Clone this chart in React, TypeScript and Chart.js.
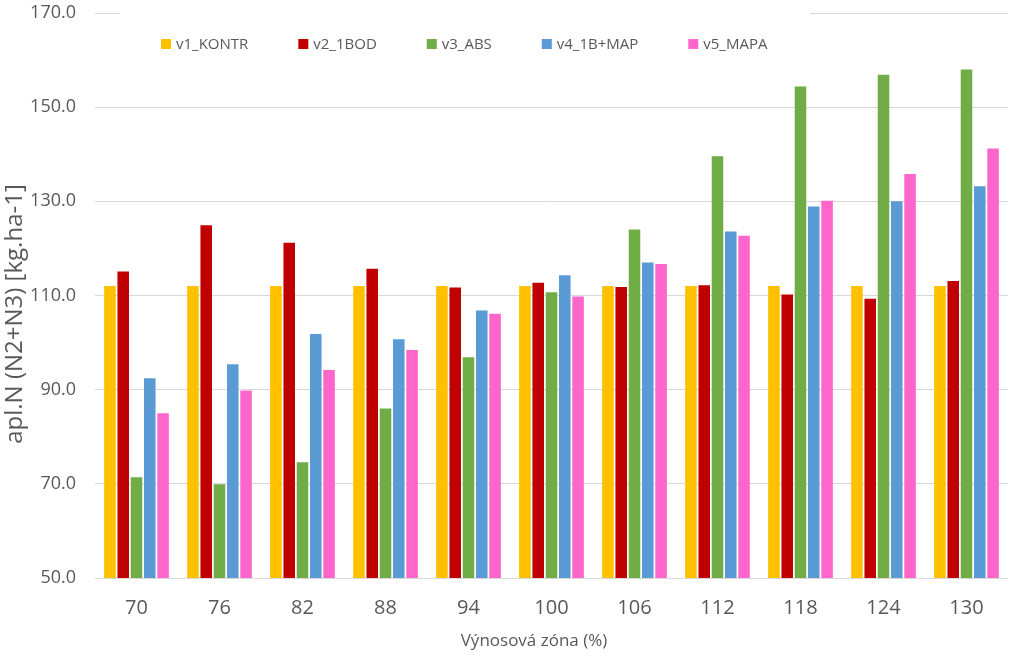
import React, { useEffect, useRef } from "react";
import { Chart, registerables } from "chart.js";

Chart.register(...registerables);

const categories = ["70", "76", "82", "88", "94", "100", "106", "112", "118", "124", "130"];
const seriesNames = ["v1_KONTR", "v2_1BOD", "v3_ABS", "v4_1B+MAP", "v5_MAPA"];
const v1Kontr = [112.0, 112.0, 112.0, 112.0, 112.0, 112.0, 112.0, 112.0, 112.0, 112.0, 112.0];
const v2Bod = [115.1, 124.9, 121.2, 115.7, 111.7, 112.7, 111.8, 112.2, 110.2, 109.3, 113.1];
const v3Abs = [71.4, 69.9, 74.6, 86.0, 96.9, 110.7, 124.0, 139.6, 154.4, 156.9, 158.0];
const v4Map = [92.4, 95.4, 101.8, 100.7, 106.8, 114.3, 117.0, 123.6, 128.9, 130.0, 133.2];
const v5Mapa = [85.0, 89.8, 94.2, 98.4, 106.1, 109.8, 116.7, 122.7, 130.1, 135.8, 141.2];
const yTicks = [50, 70, 90, 110, 130, 150, 170];
const seriesColors = ["#FFC000", "#C00000", "#70AD47", "#5B9BD5", "#FF66CC"];

const xTitle = "Výnosová zóna (%)";
const yTitle = "apl.N (N2+N3) [kg.ha-1]";

const FONT = "'Open Sans', 'DejaVu Sans', sans-serif";
const TEXT = "#595959";

const overlayLegend = {
  id: "overlayLegend",
  beforeDatasetsDraw(chart: any) {
    const ctx = chart.ctx;
    ctx.save();
    ctx.fillStyle = "#ffffff";
    ctx.fillRect(120, 0, 690, 72);
    ctx.font = `15px ${FONT}`;
    ctx.textBaseline = "middle";
    ctx.textAlign = "left";
    let x = 161;
    const y = 44;
    chart.data.datasets.forEach((ds: any) => {
      ctx.fillStyle = ds.backgroundColor;
      ctx.fillRect(x, y - 5, 10, 10);
      ctx.fillStyle = TEXT;
      ctx.fillText(ds.label, x + 15, y + 1);
      x += 15 + ctx.measureText(ds.label).width + 50;
    });
    ctx.restore();
  },
  afterDraw(chart: any) {
    const ctx = chart.ctx;
    ctx.save();
    ctx.fillStyle = TEXT;
    ctx.textAlign = "center";
    ctx.textBaseline = "middle";
    ctx.font = `17px ${FONT}`;
    ctx.fillText(xTitle, 534, 641);
    ctx.translate(15, 314);
    ctx.rotate(-Math.PI / 2);
    ctx.font = `24px ${FONT}`;
    ctx.fillText(yTitle, 0, 0);
    ctx.restore();
  },
};

export default function App() {
  const canvasRef = useRef<HTMLCanvasElement | null>(null);

  useEffect(() => {
    if (!canvasRef.current) return;
    const seriesValues = [v1Kontr, v2Bod, v3Abs, v4Map, v5Mapa];
    const chart = new Chart(canvasRef.current, {
      type: "bar",
      data: {
        labels: categories,
        datasets: seriesNames.map((name, i) => ({
          label: name,
          data: seriesValues[i],
          backgroundColor: seriesColors[i],
          borderWidth: 0,
          categoryPercentage: 0.8,
          barPercentage: 0.87,
        })),
      },
      options: {
        responsive: false,
        animation: false,
        layout: { padding: { top: 13, right: 16, left: 0, bottom: 0 } },
        plugins: {
          legend: { display: false },
          tooltip: { enabled: false },
        },
        scales: {
          x: {
            grid: { display: false, drawTicks: false },
            border: { display: false },
            ticks: { color: TEXT, font: { family: FONT, size: 20 }, padding: 18 },
            afterFit: (scale: any) => {
              scale.height = 84;
              scale.paddingLeft = 0;
              scale.paddingRight = 0;
            },
          },
          y: {
            min: 50,
            max: 170,
            grid: { color: "#D9D9D9", lineWidth: 1, drawTicks: false },
            border: { display: false },
            afterBuildTicks: (scale: any) => {
              scale.ticks = yTicks.map((v) => ({ value: v }));
            },
            ticks: {
              color: TEXT,
              font: { family: FONT, size: 18 },
              padding: 19,
              callback: (v: any) => Number(v).toFixed(1),
            },
            afterFit: (scale: any) => {
              scale.width = 95;
              scale.paddingTop = 0;
              scale.paddingBottom = 0;
            },
          },
        },
      },
      plugins: [overlayLegend],
    });
    return () => chart.destroy();
  }, []);

  return (
    <div style={{ position: "absolute", left: 0, top: 0, width: 1024, height: 662, background: "#fff" }}>
      <canvas ref={canvasRef} width={1024} height={662} style={{ display: "block" }} />
    </div>
  );
}
